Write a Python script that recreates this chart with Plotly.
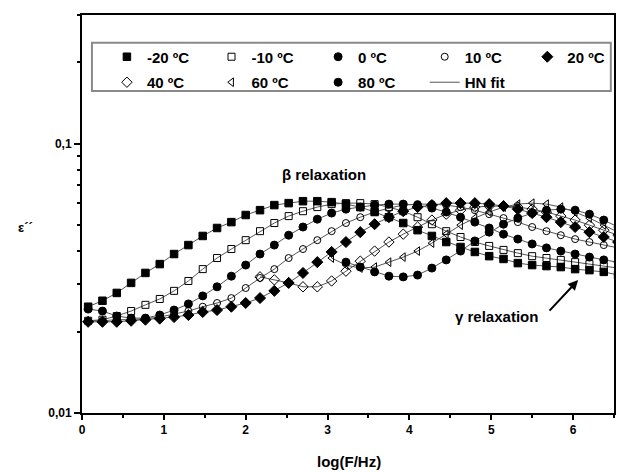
import plotly.graph_objects as go

# log10 of frequency (Hz) at which the points were measured
log_f = [0.075, 0.25, 0.425, 0.6, 0.775, 0.95, 1.125, 1.3, 1.475, 1.65,
         1.825, 2.0, 2.175, 2.35, 2.525, 2.7, 2.875, 3.05, 3.225, 3.4,
         3.575, 3.75, 3.925, 4.1, 4.275, 4.45, 4.625, 4.8, 4.975, 5.15,
         5.325, 5.5, 5.675, 5.85, 6.025, 6.2, 6.375, 6.55]

eps_m20 = [0.0248, 0.0261, 0.0279, 0.0304, 0.0331, 0.0357, 0.0389, 0.0420, 0.0454, 0.0486,
           0.0511, 0.0543, 0.0566, 0.0591, 0.0601, 0.0611, 0.0611, 0.0606, 0.0596, 0.0581,
           0.0557, 0.0533, 0.0507, 0.0477, 0.0454, 0.0431, 0.0413, 0.0396, 0.0382, 0.0373,
           0.0360, 0.0354, 0.0351, 0.0348, 0.0342, 0.0339, 0.0334, 0.0325]
eps_m10 = [0.0220, 0.0222, 0.0229, 0.0239, 0.0252, 0.0265, 0.0284, 0.0309, 0.0342, 0.0376,
           0.0406, 0.0438, 0.0473, 0.0507, 0.0538, 0.0561, 0.0581, 0.0596, 0.0601, 0.0601,
           0.0596, 0.0581, 0.0561, 0.0533, 0.0502, 0.0473, 0.0450, 0.0431, 0.0417, 0.0403,
           0.0392, 0.0382, 0.0376, 0.0370, 0.0363, 0.0357, 0.0351, 0.0345]
eps_0 = [0.0243, 0.0239, 0.0229, 0.0225, 0.0225, 0.0231, 0.0241, 0.0254, 0.0272, 0.0294,
         0.0322, 0.0354, 0.0389, 0.0420, 0.0457, 0.0490, 0.0524, 0.0552, 0.0571, 0.0581,
         0.0591, 0.0596, 0.0596, 0.0591, 0.0576, 0.0557, 0.0533, 0.0511, 0.0486, 0.0461,
         0.0442, 0.0424, 0.0410, 0.0399, 0.0389, 0.0379, 0.0370, 0.0363]
eps_10 = [0.0220, 0.0220, 0.0222, 0.0222, 0.0224, 0.0227, 0.0233, 0.0239, 0.0248, 0.0256,
          0.0267, 0.0291, 0.0317, 0.0342, 0.0376, 0.0406, 0.0438, 0.0473, 0.0507, 0.0533,
          0.0557, 0.0576, 0.0591, 0.0596, 0.0596, 0.0591, 0.0581, 0.0566, 0.0547, 0.0529,
          0.0511, 0.0490, 0.0473, 0.0457, 0.0442, 0.0431, 0.0420, 0.0410]
eps_20 = [0.0218, 0.0218, 0.0218, 0.0220, 0.0222, 0.0224, 0.0227, 0.0231, 0.0237, 0.0241,
          0.0248, 0.0256, 0.0267, 0.0284, 0.0304, 0.0331, 0.0363, 0.0396, 0.0431, 0.0469,
          0.0502, 0.0533, 0.0561, 0.0581, 0.0591, 0.0601, 0.0601, 0.0601, 0.0596, 0.0586,
          0.0571, 0.0552, 0.0533, 0.0511, 0.0490, 0.0469, 0.0450, 0.0431]
# high temperatures: measured from log_f[12], log_f[17], log_f[18] onwards
eps_40 = [0.0320, 0.0312, 0.0304, 0.0294, 0.0294, 0.0309, 0.0336, 0.0366, 0.0399, 0.0431,
          0.0461, 0.0490, 0.0520, 0.0547, 0.0566, 0.0581, 0.0586, 0.0586, 0.0581, 0.0571,
          0.0557, 0.0538, 0.0520, 0.0498, 0.0477, 0.0457]
eps_60 = [0.0376, 0.0354, 0.0345, 0.0348, 0.0363, 0.0379, 0.0399, 0.0427, 0.0461, 0.0498,
          0.0529, 0.0557, 0.0581, 0.0596, 0.0601, 0.0596, 0.0581, 0.0557, 0.0529, 0.0498,
          0.0469]
eps_80 = [0.0363, 0.0348, 0.0334, 0.0322, 0.0320, 0.0325, 0.0345, 0.0370, 0.0399, 0.0435,
          0.0469, 0.0502, 0.0529, 0.0552, 0.0566, 0.0571, 0.0566, 0.0547, 0.0520, 0.0490]

series_names = ["-20 ºC", "-10 ºC", "0 ºC", "10 ºC", "20 ºC", "40 ºC", "60 ºC", "80 ºC"]
series_values = [eps_m20, eps_m10, eps_0, eps_10, eps_20, eps_40, eps_60, eps_80]
series_start = [0, 0, 0, 0, 0, 12, 17, 18]
series_symbols = ["square", "square-open", "circle", "circle-open", "diamond",
                  "diamond-open", "triangle-left-open", "circle"]
series_sizes = [7.5, 7, 8, 7, 8.5, 8, 7.5, 8]
# legend column (1..5) of each entry; HN fit goes to column 4
series_legend = ["legend", "legend2", "legend3", "legend4", "legend5",
                 "legend", "legend2", "legend3"]
fit_legend = "legend4"

FONT = "Liberation Sans, Arial, Helvetica, sans-serif"

fig = go.Figure()

# HN fit lines (drawn below the markers)
for i, (vals, st) in enumerate(zip(series_values, series_start)):
    fig.add_trace(go.Scatter(
        x=log_f[st:st + len(vals)], y=vals, mode="lines",
        line=dict(color="#555555", width=1),
        name="HN fit", showlegend=(i == 0), legend=fit_legend, legendrank=100,
        legendgroup="fit", hoverinfo="skip"))

# data markers
for i, (name, vals, st, sym, sz, lg) in enumerate(zip(series_names, series_values,
                                                      series_start, series_symbols,
                                                      series_sizes, series_legend)):
    fig.add_trace(go.Scatter(
        x=log_f[st:st + len(vals)], y=vals, mode="markers", name=name,
        legend=lg, legendrank=i + 1, legendgroup=name,
        marker=dict(symbol=sym, size=sz, color="black",
                    line=dict(color="black", width=1))))

legend_font = dict(family=FONT, size=15, color="black", weight="bold")
col_x = [107, 212, 319, 426, 529]   # pixel left edge of each legend column
legends = {}
for j, key in enumerate(["legend", "legend2", "legend3", "legend4", "legend5"]):
    legends[key] = dict(
        orientation="v", x=(col_x[j] - 82) / 534, y=0.936,
        xanchor="left", yanchor="top", bgcolor="rgba(0,0,0,0)", borderwidth=0,
        font=legend_font, tracegroupgap=3)

fig.update_layout(
    width=618, height=472,
    margin=dict(l=82, r=2, t=15, b=59),
    paper_bgcolor="white", plot_bgcolor="white",
    font=dict(family=FONT, color="black", size=13),
    showlegend=True,
    **legends,
    shapes=[dict(type="rect", xref="paper", yref="paper",
                 x0=0.0187, x1=0.994, y0=0.809, y1=0.930,
                 line=dict(color="#8a8a8a", width=2), fillcolor="white",
                 layer="below")],
    xaxis=dict(
        range=[0, 6.5], tickvals=[0, 1, 2, 3, 4, 5, 6],
        ticks="outside", ticklen=5, tickwidth=2, tickcolor="black",
        showline=True, linecolor="black", linewidth=2, mirror=True,
        showgrid=False, zeroline=False,
        tickfont=dict(family=FONT, size=12, weight="bold"),
        minor=dict(dtick=0.5, ticks="outside", ticklen=3, tickwidth=2,
                   tickcolor="black", showgrid=False)),
    yaxis=dict(
        type="log", range=[-2, -0.5229],
        tickvals=[0.01, 0.1], ticktext=["0,01", "0,1"],
        ticks="outside", ticklen=6, tickwidth=2, tickcolor="black",
        showline=True, linecolor="black", linewidth=2, mirror=True,
        showgrid=False, zeroline=False,
        tickfont=dict(family=FONT, size=12, weight="bold"),
        minor=dict(tickvals=[0.02, 0.03, 0.04, 0.05, 0.06, 0.07, 0.08, 0.09, 0.2, 0.3],
                   ticks="outside", ticklen=3, tickwidth=2, tickcolor="black",
                   showgrid=False)),
    annotations=[
        dict(text="β relaxation", xref="paper", yref="paper", x=0.455, y=0.598,
             showarrow=False, font=dict(family=FONT, size=15, weight="bold")),
        dict(text="γ relaxation", xref="paper", yref="paper", x=0.861, y=0.216,
             showarrow=False, font=dict(family=FONT, size=15, weight="bold")),
        dict(text="", xref="paper", yref="paper", x=0.9326, y=0.334,
             ax=-30, ay=32, showarrow=True, arrowhead=2, arrowsize=1,
             arrowwidth=2, arrowcolor="black"),
        dict(text="ε´´", xref="paper", yref="paper", x=-0.125, y=0.465,
             showarrow=False, font=dict(family=FONT, size=13, weight="bold")),
        dict(text="log(F/Hz)", xref="paper", yref="paper", x=0.502, y=-0.123,
             showarrow=False, yanchor="middle",
             font=dict(family=FONT, size=15, weight="bold")),
    ],
)

fig.write_html("out.html")
